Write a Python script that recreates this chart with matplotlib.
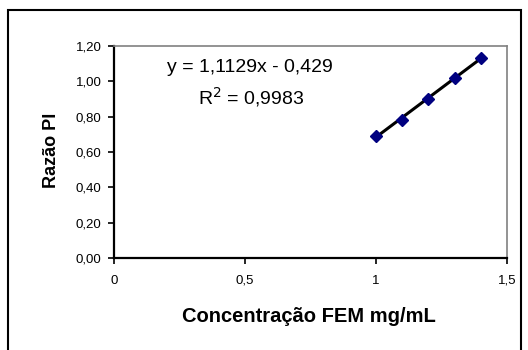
import matplotlib
matplotlib.use("Agg")
import matplotlib.pyplot as plt
from matplotlib.patches import Rectangle
import numpy as np

plt.rcParams['font.family'] = ['Liberation Sans', 'DejaVu Sans']

conc = [1.0, 1.1, 1.2, 1.3, 1.4]
razao = [0.69, 0.78, 0.90, 1.02, 1.13]
slope = 1.1129
intercept = -0.429
eq_text = "y = 1,1129x - 0,429"
r2_text = "R$^2$ = 0,9983"
xticks = [0, 0.5, 1, 1.5]
xticklabels = ["0", "0,5", "1", "1,5"]
yticks = [0.0, 0.2, 0.4, 0.6, 0.8, 1.0, 1.2]
yticklabels = ["0,00", "0,20", "0,40", "0,60", "0,80", "1,00", "1,20"]

W, H = 528, 350
fig = plt.figure(figsize=(W/100, H/100), dpi=100)
fig.patch.set_facecolor('white')

# outer chart-area frame
fig.add_artist(Rectangle((8/W, -0.1), (521-8)/W, 1.1 - 10/H,
                         transform=fig.transFigure, fill=False,
                         edgecolor='black', linewidth=1.5))

left, right, top, bottom = 114, 507, 46, 258
ax = fig.add_axes([left/W, 1 - bottom/H, (right-left)/W, (bottom-top)/H])

xfit = np.array([conc[0], conc[-1]])
ax.plot(xfit, slope*xfit + intercept, color='black', linewidth=2.2, zorder=2)
ax.plot(conc, razao, linestyle='none', marker='D', markersize=6.5,
        color='#000080', markeredgecolor='#000080', zorder=3)

ax.set_xlim(0, 1.5)
ax.set_ylim(0, 1.2)
ax.set_xticks(xticks)
ax.set_xticklabels(xticklabels)
ax.set_yticks(yticks)
ax.set_yticklabels(yticklabels)
ax.tick_params(axis='both', direction='out', length=4, width=1.2,
               labelsize=9.5, colors='black')
ax.tick_params(axis='x', pad=8)
ax.tick_params(axis='y', pad=5)

for s in ['left', 'bottom']:
    ax.spines[s].set_color('black')
    ax.spines[s].set_linewidth(1.6)
for s in ['top', 'right']:
    ax.spines[s].set_color('#808080')
    ax.spines[s].set_linewidth(1.2)

fig.text(309/W, 1 - 317/H, "Concentração FEM mg/mL", ha='center', va='center',
         fontsize=14.5, fontweight='bold')
fig.text(51/W, 1 - 150/H, "Razão PI", ha='center', va='center',
         rotation=90, fontsize=13, fontweight='bold')

fig.text(250/W, 1 - 67/H, eq_text, ha='center', va='center', fontsize=14)
fig.text(251/W, 1 - 97/H, r2_text, ha='center', va='center', fontsize=14)

fig.savefig("out.png", dpi=100)
